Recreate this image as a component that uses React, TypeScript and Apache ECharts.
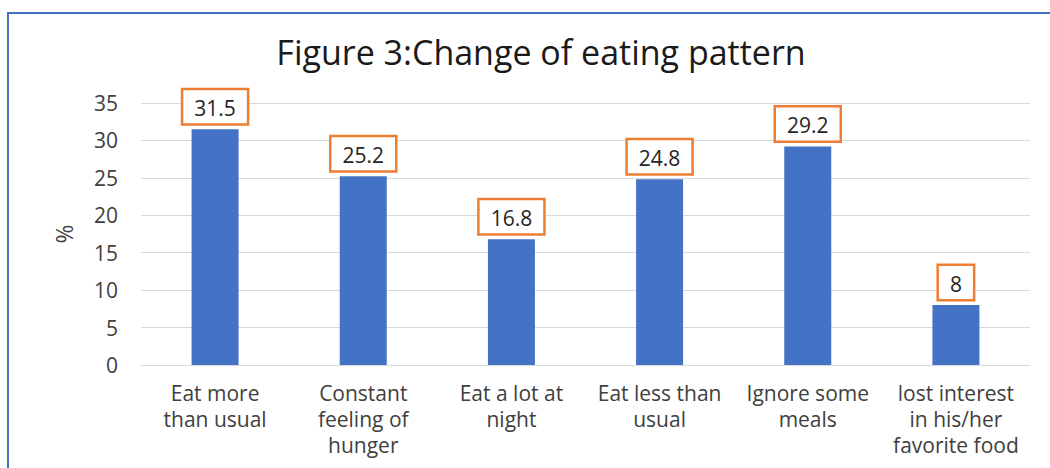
import React, { useEffect, useRef } from "react";
import * as echarts from "echarts";

const categories = [
  "Eat more\nthan usual",
  "Constant\nfeeling of\nhunger",
  "Eat a lot at\nnight",
  "Eat less than\nusual",
  "Ignore some\nmeals",
  "lost interest\nin his/her\nfavorite food",
];
const values = [31.5, 25.2, 16.8, 24.8, 29.2, 8];
const titleText = "Figure 3:Change of eating pattern";
const yAxisName = "%";

const FONT = "'Open Sans', 'Noto Sans', sans-serif";

export default function App() {
  const ref = useRef<HTMLDivElement>(null);
  useEffect(() => {
    document.body.style.margin = "0";
    const chart = echarts.init(ref.current!, null, { renderer: "svg" });
    chart.setOption({
      animation: false,
      backgroundColor: "#ffffff",
      title: {
        text: titleText,
        left: 536,
        top: 29,
        textAlign: "center",
        textStyle: { fontFamily: FONT, fontSize: 34, fontWeight: "normal", color: "#1a1a1a", lineHeight: 36 },
      },
      graphic: [
        {
          type: "rect",
          shape: { x: 8, y: 13, width: 1100, height: 500 },
          style: { fill: "none", stroke: "#4472C4", lineWidth: 2 },
          silent: true,
        },
      ],
      grid: { left: 141, right: 20, top: 103, bottom: 103, containLabel: false },
      xAxis: {
        type: "category",
        data: categories,
        axisLine: { lineStyle: { color: "#D9D9D9", width: 1 } },
        axisTick: { show: false },
        axisLabel: {
          fontFamily: FONT,
          fontSize: 21,
          color: "#404040",
          lineHeight: 26,
          margin: 15,
          interval: 0,
        },
      },
      yAxis: {
        type: "value",
        min: 0,
        max: 35,
        interval: 5,
        name: yAxisName,
        nameLocation: "middle",
        nameRotate: 90,
        nameGap: 66,
        nameTextStyle: { fontFamily: FONT, fontSize: 23, color: "#404040" },
        axisLine: { show: false },
        axisTick: { show: false },
        splitLine: { lineStyle: { color: "#D9D9D9", width: 1 } },
        axisLabel: { fontFamily: FONT, fontSize: 21, color: "#404040", margin: 23 },
      },
      series: [
        {
          type: "bar",
          data: values,
          barWidth: 47,
          itemStyle: { color: "#4472C4" },
          label: {
            show: true,
            position: "top",
            distance: 6,
            fontFamily: FONT,
            fontSize: 21,
            color: "#262626",
            backgroundColor: "#ffffff",
            borderColor: "#ED7D31",
            borderWidth: 2.5,
            padding: [7, 11, 5, 11],
          },
        },
      ],
    });
    return () => chart.dispose();
  }, []);
  return <div ref={ref} style={{ width: 1050, height: 468 }} />;
}
